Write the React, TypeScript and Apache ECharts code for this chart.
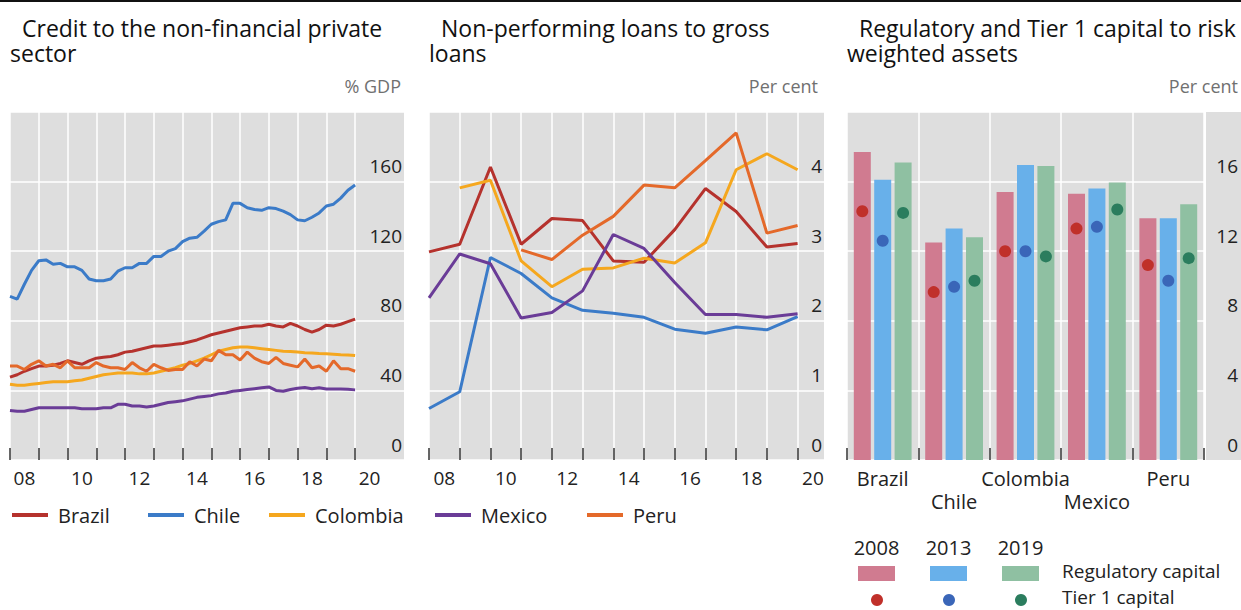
import React, { useEffect, useRef } from 'react';
import * as echarts from 'echarts';

const FONT = '"Open Sans", "Noto Sans", sans-serif';

const countries = ['Brazil', 'Chile', 'Colombia', 'Mexico', 'Peru'];
const lineColors = ['#b5322d', '#3b7bc8', '#f5a71e', '#6a3c97', '#e4692a'];

// Panel 1: credit to the non-financial private sector, % GDP, quarterly 2008Q1 onwards
const creditFirstYear = 2008;
const creditBrazil = [47.6, 49, 51, 52.5, 54, 54, 54.5, 55.5, 57, 56, 55, 57, 58.5, 59, 59.5, 60.5, 62, 62.5, 63.5, 64.5, 65.5, 65.5, 66, 66.5, 67, 68, 69, 70.5, 72, 73, 74, 75, 76, 76.5, 77, 77, 78, 77, 76.5, 78.5, 77, 75, 73.5, 75, 77.5, 77, 78, 79.5, 81];
const creditChile = [94, 92.5, 101, 109, 114.5, 115, 112.5, 113, 111, 111, 109, 104, 103, 103, 104, 108.5, 110.5, 110.5, 113, 113, 117, 117, 120, 121.5, 125.5, 127.5, 128, 131.5, 135.5, 137, 138, 147.5, 147.5, 145, 144, 143.5, 145, 144.5, 143, 141, 138, 137.5, 139.5, 142, 146, 147, 150.5, 155, 158];
const creditColombia = [43.5, 43, 43, 43.5, 44, 44.5, 45, 45, 45, 45.5, 46, 47, 48, 49, 49.5, 50, 50, 50, 49.5, 49.5, 50, 51, 52, 53, 54.5, 55.5, 57, 58.5, 60.5, 62.5, 63.5, 64.5, 65, 65, 64.5, 64, 63.5, 63, 62.5, 62.3, 62, 61.7, 61.5, 61.2, 61, 60.8, 60.5, 60.3, 60];
const creditMexico = [28.5, 28, 28, 29, 30, 30, 30, 30, 30, 30, 29.5, 29.5, 29.5, 30, 30, 32, 32, 31, 31, 30.5, 31, 32, 33, 33.5, 34, 35, 36, 36.5, 37, 38, 38.5, 39.5, 40, 40.5, 41, 41.5, 42, 40, 39.5, 40.5, 41.2, 41.7, 41, 41.5, 40.8, 40.8, 40.8, 40.6, 40.3];
const creditPeru = [54, 54, 52, 55, 57, 54, 55, 53, 57, 53, 53, 53, 56, 54, 53, 53, 52, 56, 53, 51, 55, 53, 51.5, 52, 52, 56.5, 54, 58, 57, 63, 60.5, 60.5, 57.5, 62, 58.5, 56.5, 55.5, 59, 55.5, 54.5, 53.5, 58, 53, 54, 51, 57, 52.5, 52.5, 51];
const creditSeries = [creditBrazil, creditChile, creditColombia, creditMexico, creditPeru];

// Panel 2: non-performing loans to gross loans, per cent, annual
const nplYears = [2008, 2009, 2010, 2011, 2012, 2013, 2014, 2015, 2016, 2017, 2018, 2019, 2020];
const nplBrazil = [2.99, 3.1, 4.21, 3.1, 3.47, 3.44, 2.86, 2.84, 3.31, 3.9, 3.57, 3.06, 3.11];
const nplChile = [0.74, 0.98, 2.91, 2.68, 2.33, 2.15, 2.11, 2.05, 1.88, 1.82, 1.91, 1.87, 2.06];
const nplColombia = [null, 3.91, 4.02, 2.86, 2.49, 2.74, 2.76, 2.9, 2.83, 3.12, 4.17, 4.4, 4.17];
const nplMexico = [2.33, 2.96, 2.82, 2.04, 2.12, 2.43, 3.24, 3.04, 2.55, 2.09, 2.09, 2.05, 2.1];
const nplPeru = [null, null, null, 3.02, 2.88, 3.23, 3.5, 3.95, 3.91, 4.3, 4.7, 3.26, 3.37];
const nplSeries = [nplBrazil, nplChile, nplColombia, nplMexico, nplPeru];

// Shared x tick labels for the two line panels
const tickYears = [2008, 2009, 2010, 2011, 2012, 2013, 2014, 2015, 2016, 2017, 2018, 2019, 2020];
const yearLabels = ['08', '10', '12', '14', '16', '18', '20'];

// Panel 3: capital ratios, per cent
const capYears = ['2008', '2013', '2019'];
const regCap2008 = [17.7, 12.5, 15.4, 15.3, 13.9];
const regCap2013 = [16.1, 13.3, 16.95, 15.6, 13.9];
const regCap2019 = [17.1, 12.8, 16.9, 15.95, 14.7];
const tier1_2008 = [14.3, 9.65, 12.0, 13.3, 11.2];
const tier1_2013 = [12.6, 9.95, 12.0, 13.4, 10.3];
const tier1_2019 = [14.2, 10.3, 11.7, 14.4, 11.6];
const regCap = [regCap2008, regCap2013, regCap2019];
const tier1 = [tier1_2008, tier1_2013, tier1_2019];
const barColors = ['#d07b90', '#68b0ea', '#8fc0a2'];
const dotColors = ['#c0302a', '#3a66b8', '#2b7d5e'];

const GRID_BG = '#dedede';
const AXIS_TXT = '#222';

function lineXAxis(gridIndex: number, max: number) {
  return {
    type: 'value',
    gridIndex,
    min: 2008,
    max,
    interval: 2,
    axisLine: { show: false },
    axisTick: {
      show: true,
      inside: true,
      length: 12,
      lineStyle: { color: '#333', width: 1.5 },
      customValues: tickYears,
    },
    axisLabel: {
      customValues: yearLabels.map((l) => 2000 + Number(l) + 0.5),
      formatter: (v: number) => yearLabels[yearLabels.indexOf(String(Math.floor(v) - 2000).padStart(2, '0'))],
      fontSize: 19,
      color: AXIS_TXT,
      margin: 8,
      fontFamily: FONT,
    },
    splitLine: { show: true, lineStyle: { color: '#fff', width: 1.5 } },
  };
}

function rightYAxis(gridIndex: number, max: number, interval: number, inside: boolean) {
  return {
    type: 'value',
    gridIndex,
    position: 'right',
    min: 0,
    max,
    interval,
    axisLine: { show: false },
    axisTick: { show: false },
    axisLabel: {
      inside,
      margin: inside ? 2 : 34,
      align: 'right',
      verticalAlign: 'bottom',
      padding: [0, 0, 6, 0],
      fontSize: 19,
      color: AXIS_TXT,
      showMaxLabel: false,
      fontFamily: FONT,
    },
    splitLine: { show: true, lineStyle: { color: '#fff', width: 1.5 } },
  };
}

function buildOption() {
  const series: any[] = [];
  countries.forEach((c, k) => {
    series.push({
      name: c,
      type: 'line',
      xAxisIndex: 0,
      yAxisIndex: 0,
      showSymbol: false,
      color: lineColors[k],
      lineStyle: { width: 3 },
      data: creditSeries[k].map((v, i) => [creditFirstYear + i / 4, v]),
    });
  });
  countries.forEach((c, k) => {
    series.push({
      name: c,
      type: 'line',
      xAxisIndex: 1,
      yAxisIndex: 1,
      showSymbol: false,
      color: lineColors[k],
      lineStyle: { width: 3 },
      data: nplSeries[k].map((v, i) => [nplYears[i], v]),
    });
  });
  capYears.forEach((y, k) => {
    series.push({
      name: 'Regulatory capital ' + y,
      type: 'bar',
      xAxisIndex: 2,
      yAxisIndex: 2,
      barWidth: 17,
      barGap: '20%',
      itemStyle: { color: barColors[k] },
      data: regCap[k],
    });
  });
  capYears.forEach((y, k) => {
    series.push({
      name: 'Tier 1 capital ' + y,
      type: 'pictorialBar',
      xAxisIndex: 2,
      yAxisIndex: 2,
      barWidth: 17,
      barGap: '20%',
      symbol: 'circle',
      symbolSize: 12,
      symbolPosition: 'end',
      symbolOffset: [0, '-50%'],
      z: 5,
      itemStyle: { color: dotColors[k] },
      data: tier1[k],
    });
  });

  const legendLeft = [12, 148, 269, 435, 587];
  const legends = countries.map((c, k) => ({
    data: [c],
    left: legendLeft[k],
    top: 505,
    padding: 0,
    icon: 'rect',
    itemWidth: 36,
    itemHeight: 4,
    textStyle: { fontSize: 20, color: AXIS_TXT, fontFamily: FONT, padding: [0, 0, 0, 5] },
  }));

  const txt = (text: string, x: number, y: number, size: number, fill: string, align = 'left') => ({
    type: 'text',
    x,
    y,
    style: { text, fill, fontSize: size, fontFamily: FONT, align, verticalAlign: 'middle', lineHeight: size },
  });

  const title = (first: string, second: string, x: number, indent: number) => ({
    type: 'text',
    x,
    y: 15,
    style: {
      text: '{a|' + first + '}\n{b|' + second + '}',
      fill: '#111',
      fontFamily: FONT,
      fontSize: 23,
      lineHeight: 25,
      verticalAlign: 'top',
      rich: {
        a: { fontSize: 23, lineHeight: 25, fontFamily: FONT, fill: '#111', padding: [0, 0, 0, indent] },
        b: { fontSize: 23, lineHeight: 25, fontFamily: FONT, fill: '#111' },
      },
    },
  });

  const graphic: any[] = [
    { type: 'line', shape: { x1: 0, y1: 1, x2: 1241, y2: 1 }, style: { stroke: '#111', lineWidth: 2 } },
    title('Credit to the non-financial private', 'sector', 10, 12),
    title('Non-performing loans to gross', 'loans', 429, 12),
    title('Regulatory and Tier 1 capital to risk', 'weighted assets', 847, 12),
    txt('% GDP', 401, 86, 18, '#707070', 'right'),
    txt('Per cent', 818, 86, 18, '#707070', 'right'),
    txt('Per cent', 1238, 86, 18, '#707070', 'right'),
    { type: 'rect', z: -1, shape: { x: 1206, y: 112, width: 35, height: 348 }, style: { fill: GRID_BG } },
  ];
  const legX = [858, 930, 1002];
  capYears.forEach((y, k) => {
    graphic.push(txt(y, legX[k] + 18.5, 547, 20, AXIS_TXT, 'center'));
    graphic.push({ type: 'rect', shape: { x: legX[k], y: 566, width: 37, height: 15 }, style: { fill: barColors[k] } });
    graphic.push({ type: 'circle', shape: { cx: legX[k] + 19, cy: 600, r: 6 }, style: { fill: dotColors[k] } });
  });
  graphic.push(txt('Regulatory capital', 1062, 571, 19, AXIS_TXT));
  graphic.push(txt('Tier 1 capital', 1062, 596.5, 19, AXIS_TXT));

  return {
    animation: false,
    textStyle: { fontFamily: FONT },
    grid: [
      { left: 10, top: 112, width: 394, height: 348, show: true, backgroundColor: GRID_BG, borderWidth: 0 },
      { left: 429, top: 112, width: 395, height: 348, show: true, backgroundColor: GRID_BG, borderWidth: 0 },
      { left: 847, top: 112, width: 359, height: 348, show: true, backgroundColor: GRID_BG, borderWidth: 0 },
    ],
    xAxis: [
      lineXAxis(0, 2021.7),
      lineXAxis(1, 2020.86),
      {
        type: 'category',
        gridIndex: 2,
        data: countries,
        axisLine: { show: false },
        axisTick: { show: true, inside: true, length: 12, lineStyle: { color: '#333', width: 1.5 } },
        axisLabel: {
          interval: 0,
          hideOverlap: false,
          formatter: (v: string, i: number) => (i % 2 ? '\n' + v : v),
          fontSize: 20,
          lineHeight: 23,
          color: AXIS_TXT,
          margin: 7,
          fontFamily: FONT,
        },
        splitLine: { show: true, interval: 0, lineStyle: { color: '#fff', width: 1.5 } },
      },
    ],
    yAxis: [rightYAxis(0, 200, 40, true), rightYAxis(1, 5, 1, true), rightYAxis(2, 20, 4, false)],
    legend: legends,
    graphic,
    series,
  };
}

export default function App() {
  const ref = useRef<HTMLDivElement>(null);
  useEffect(() => {
    const chart = echarts.init(ref.current!, null, { renderer: 'svg' });
    chart.setOption(buildOption() as any);
    return () => chart.dispose();
  }, []);
  return <div ref={ref} style={{ position: 'absolute', left: 0, top: 0, width: 1241, height: 610, background: '#fff' }} />;
}
